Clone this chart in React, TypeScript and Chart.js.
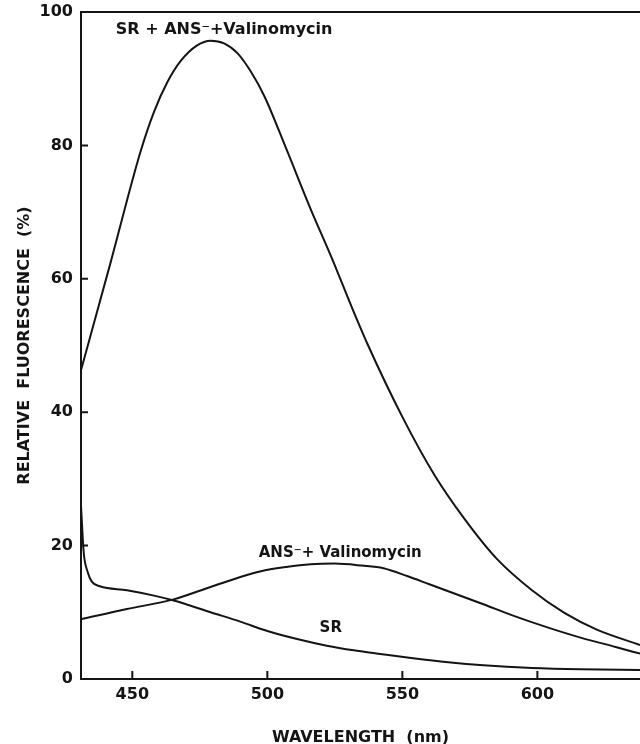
import React, { useEffect, useRef } from "react";
import { Chart, registerables } from "chart.js";

Chart.register(...registerables);

// ---- data ----
const srAnsValWl = [431, 442, 453, 458, 463, 468, 474, 479, 484, 489, 494, 499, 507, 516, 524, 531, 537, 550, 562, 573, 585, 598, 610, 622, 638];
const srAnsValY = [46.3, 62.5, 79, 85, 89.5, 92.7, 95, 95.7, 95.3, 93.8, 91, 87.3, 79.5, 70.5, 63, 56, 50.3, 39.3, 30.5, 24, 18, 13.3, 9.9, 7.4, 5.1];

const ansValWl = [431, 448, 465, 479, 490, 498, 507, 516, 525, 535, 543, 552, 560, 568, 580, 591, 604, 616, 629, 638];
const ansValY = [8.95, 10.5, 11.9, 13.8, 15.3, 16.2, 16.8, 17.2, 17.3, 17.0, 16.6, 15.4, 14.2, 13.0, 11.2, 9.5, 7.7, 6.2, 4.8, 3.8];

const srWl = [431, 432, 433.5, 435, 438, 448, 458, 465, 479, 490, 500, 511, 522, 532, 541, 554, 567, 580, 598, 616, 638];
const srY = [26, 19, 16, 14.6, 13.9, 13.3, 12.5, 11.8, 10.0, 8.6, 7.2, 6.0, 5.0, 4.3, 3.8, 3.1, 2.5, 2.05, 1.65, 1.45, 1.35];

const xTicks = [450, 500, 550, 600];
const yTicks = [0, 20, 40, 60, 80, 100];
const xRange = [431, 638];
const yRange = [0, 100];

const seriesNames = ["SR + ANS⁻+Valinomycin", "ANS⁻+ Valinomycin", "SR"];
const labelWl = [484, 527, 523.5];
const labelVal = [97.3, 18.9, 7.6];

const INK = "#141414";
const FONT = "'DejaVu Sans', Verdana, sans-serif";

const toPoints = (xs: number[], ys: number[]) => xs.map((x, i) => ({ x, y: ys[i] }));

const decorPlugin = {
  id: "decor",
  afterDatasetsDraw(chart: any) {
    const { ctx, chartArea: a, scales } = chart;
    const x = scales.x;
    const y = scales.y;
    ctx.save();
    ctx.strokeStyle = INK;
    ctx.lineWidth = 2;
    ctx.beginPath();
    ctx.moveTo(a.left - 1, a.top);
    ctx.lineTo(a.right, a.top);
    yTicks.forEach((v) => {
      const py = y.getPixelForValue(v);
      ctx.moveTo(a.left, py);
      ctx.lineTo(a.left + 7, py);
    });
    xTicks.forEach((v) => {
      const px = x.getPixelForValue(v);
      ctx.moveTo(px, a.bottom);
      ctx.lineTo(px, a.bottom - 8);
    });
    ctx.stroke();

    ctx.fillStyle = INK;
    ctx.textAlign = "center";
    ctx.textBaseline = "middle";
    seriesNames.forEach((name, i) => {
      ctx.font = i === 0 ? `bold 16px ${FONT}` : `bold 15px ${FONT}`;
      ctx.fillText(name, x.getPixelForValue(labelWl[i]), y.getPixelForValue(labelVal[i]));
    });
    ctx.restore();
  },
};

export default function App() {
  const ref = useRef<HTMLCanvasElement | null>(null);

  useEffect(() => {
    if (!ref.current) return;
    const lineStyle = {
      borderColor: INK,
      borderWidth: 2,
      pointRadius: 0,
      fill: false,
      cubicInterpolationMode: "monotone" as const,
    };
    const chart = new Chart(ref.current, {
      type: "line",
      data: {
        datasets: [
          { label: seriesNames[0], data: toPoints(srAnsValWl, srAnsValY), ...lineStyle },
          { label: seriesNames[1], data: toPoints(ansValWl, ansValY), ...lineStyle },
          { label: seriesNames[2], data: toPoints(srWl, srY), ...lineStyle },
        ],
      },
      options: {
        animation: false,
        responsive: false,
        layout: { padding: { top: 12, right: 0, left: 0, bottom: 0 } },
        plugins: { legend: { display: false }, tooltip: { enabled: false } },
        scales: {
          x: {
            type: "linear",
            min: xRange[0],
            max: xRange[1],
            afterBuildTicks: (s: any) => {
              s.ticks = xTicks.map((v) => ({ value: v }));
            },
            afterFit: (s: any) => {
              s.height = 65;
              s.paddingLeft = 0;
              s.paddingRight = 0;
            },
            grid: { display: true, drawOnChartArea: false, drawTicks: false },
            border: { display: true, color: INK, width: 2 },
            ticks: {
              padding: 6,
              color: INK,
              maxRotation: 0,
              font: { family: FONT, size: 16, weight: "bold" },
            },
            title: {
              display: true,
              text: "WAVELENGTH  (nm)",
              color: INK,
              font: { family: FONT, size: 16, weight: "bold" },
              padding: { top: 0, bottom: -3 },
            },
          },
          y: {
            type: "linear",
            min: yRange[0],
            max: yRange[1],
            afterBuildTicks: (s: any) => {
              s.ticks = yTicks.map((v) => ({ value: v }));
            },
            afterFit: (s: any) => {
              s.width = 81;
              s.paddingTop = 0;
              s.paddingBottom = 0;
            },
            grid: { display: true, drawOnChartArea: false, drawTicks: false },
            border: { display: true, color: INK, width: 2 },
            ticks: {
              padding: 8,
              color: INK,
              font: { family: FONT, size: 16, weight: "bold" },
            },
            title: {
              display: true,
              text: "RELATIVE  FLUORESCENCE  (%)",
              color: INK,
              font: { family: FONT, size: 16, weight: "bold" },
              padding: { top: 15, bottom: 0 },
            },
          },
        },
      },
      plugins: [decorPlugin],
    });
    return () => chart.destroy();
  }, []);

  return (
    <div style={{ position: "absolute", left: 0, top: 0, width: 640, height: 744, background: "#fff" }}>
      <canvas ref={ref} width={640} height={744} />
    </div>
  );
}
